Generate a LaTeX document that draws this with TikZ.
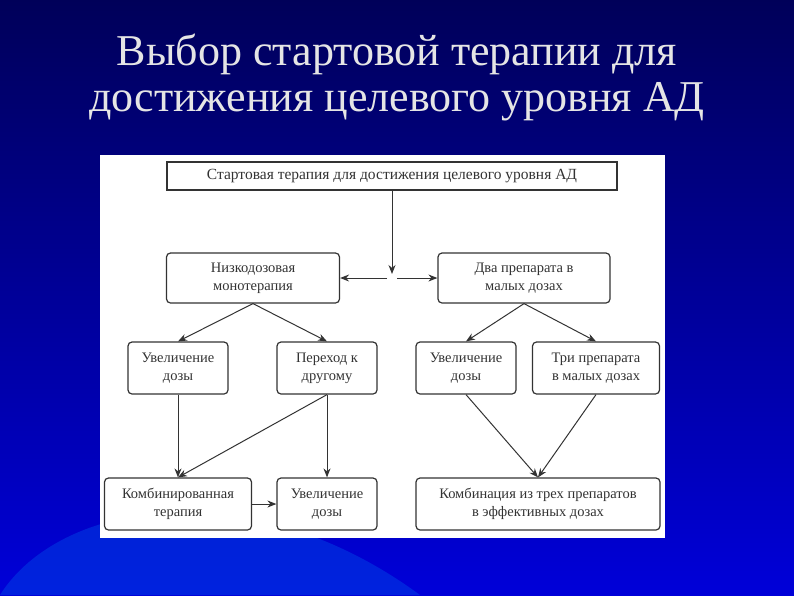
\documentclass[tikz,border=0pt]{standalone}
\usepackage{fontspec}
\setmainfont{Liberation Serif}
\usetikzlibrary{arrows.meta}
\begin{document}
\begin{tikzpicture}[x=1pt,y=-1pt,
  bx/.style={draw=black!80,line width=1.2pt,rounded corners=4pt,align=center,font=\fontsize{14.5}{18}\selectfont,text=black!80,inner sep=0pt},
  ar/.style={-{Stealth[length=9pt,width=7pt]},line width=1pt,black!80}]
\useasboundingbox (0,0) rectangle (794,595);
\shade[top color=blue!35!black,bottom color=blue!85!black] (0,0) rectangle (794,595);
\fill[blue!70!cyan!90!black,opacity=0.5] (0,595) .. controls (60,500) and (250,470) .. (420,595) -- cycle;
\node[text=black!10,font=\fontsize{44}{46}\selectfont,align=center] (title) at (397,77) {Выбор стартовой терапии для\\достижения целевого уровня АД};
\fill[white] (100,155) rectangle (665,538);
\node[bx,rounded corners=0pt,minimum width=450pt,minimum height=28pt,font=\fontsize{15.5}{18}\selectfont] (top) at (392,176) {Стартовая терапия для достижения целевого уровня АД};
\coordinate (j) at (392,274);
\node[bx,minimum width=173pt,minimum height=50pt] (L) at (253,278) {Низкодозовая\\монотерапия};
\node[bx,minimum width=172pt,minimum height=50pt] (R) at (524,278) {Два препарата в\\малых дозах};
\node[bx,minimum width=100pt,minimum height=52pt] (a) at (178,368) {Увеличение\\дозы};
\node[bx,minimum width=100pt,minimum height=52pt] (b) at (327,368) {Переход к\\другому};
\node[bx,minimum width=100pt,minimum height=52pt] (c) at (466,368) {Увеличение\\дозы};
\node[bx,minimum width=127pt,minimum height=52pt] (d) at (596,368) {Три препарата\\в малых дозах};
\node[bx,minimum width=147pt,minimum height=52pt] (e) at (178,504) {Комбинированная\\терапия};
\node[bx,minimum width=100pt,minimum height=52pt] (f) at (327,504) {Увеличение\\дозы};
\node[bx,minimum width=244pt,minimum height=52pt] (g) at (538,504) {Комбинация из трех препаратов\\в эффективных дозах};
\draw[ar] (top) -- (j);
\draw[ar] ([xshift=-5pt]j|-L) -- (L.east);
\draw[ar] ([xshift=5pt]j|-R) -- (R.west);
\draw[ar] (L.south) -- (a.north);
\draw[ar] (L.south) -- (b.north);
\draw[ar] (R.south) -- (c.north);
\draw[ar] (R.south) -- (d.north);
\draw[ar] (a.south) -- (e.north);
\draw[ar] (b.south) -- (e.north);
\draw[ar] (b.south) -- (f.north);
\draw[ar] (c.south) -- (g.north);
\draw[ar] (d.south) -- (g.north);
\draw[ar] (e.east) -- (f.west);
\end{tikzpicture}
\end{document}
